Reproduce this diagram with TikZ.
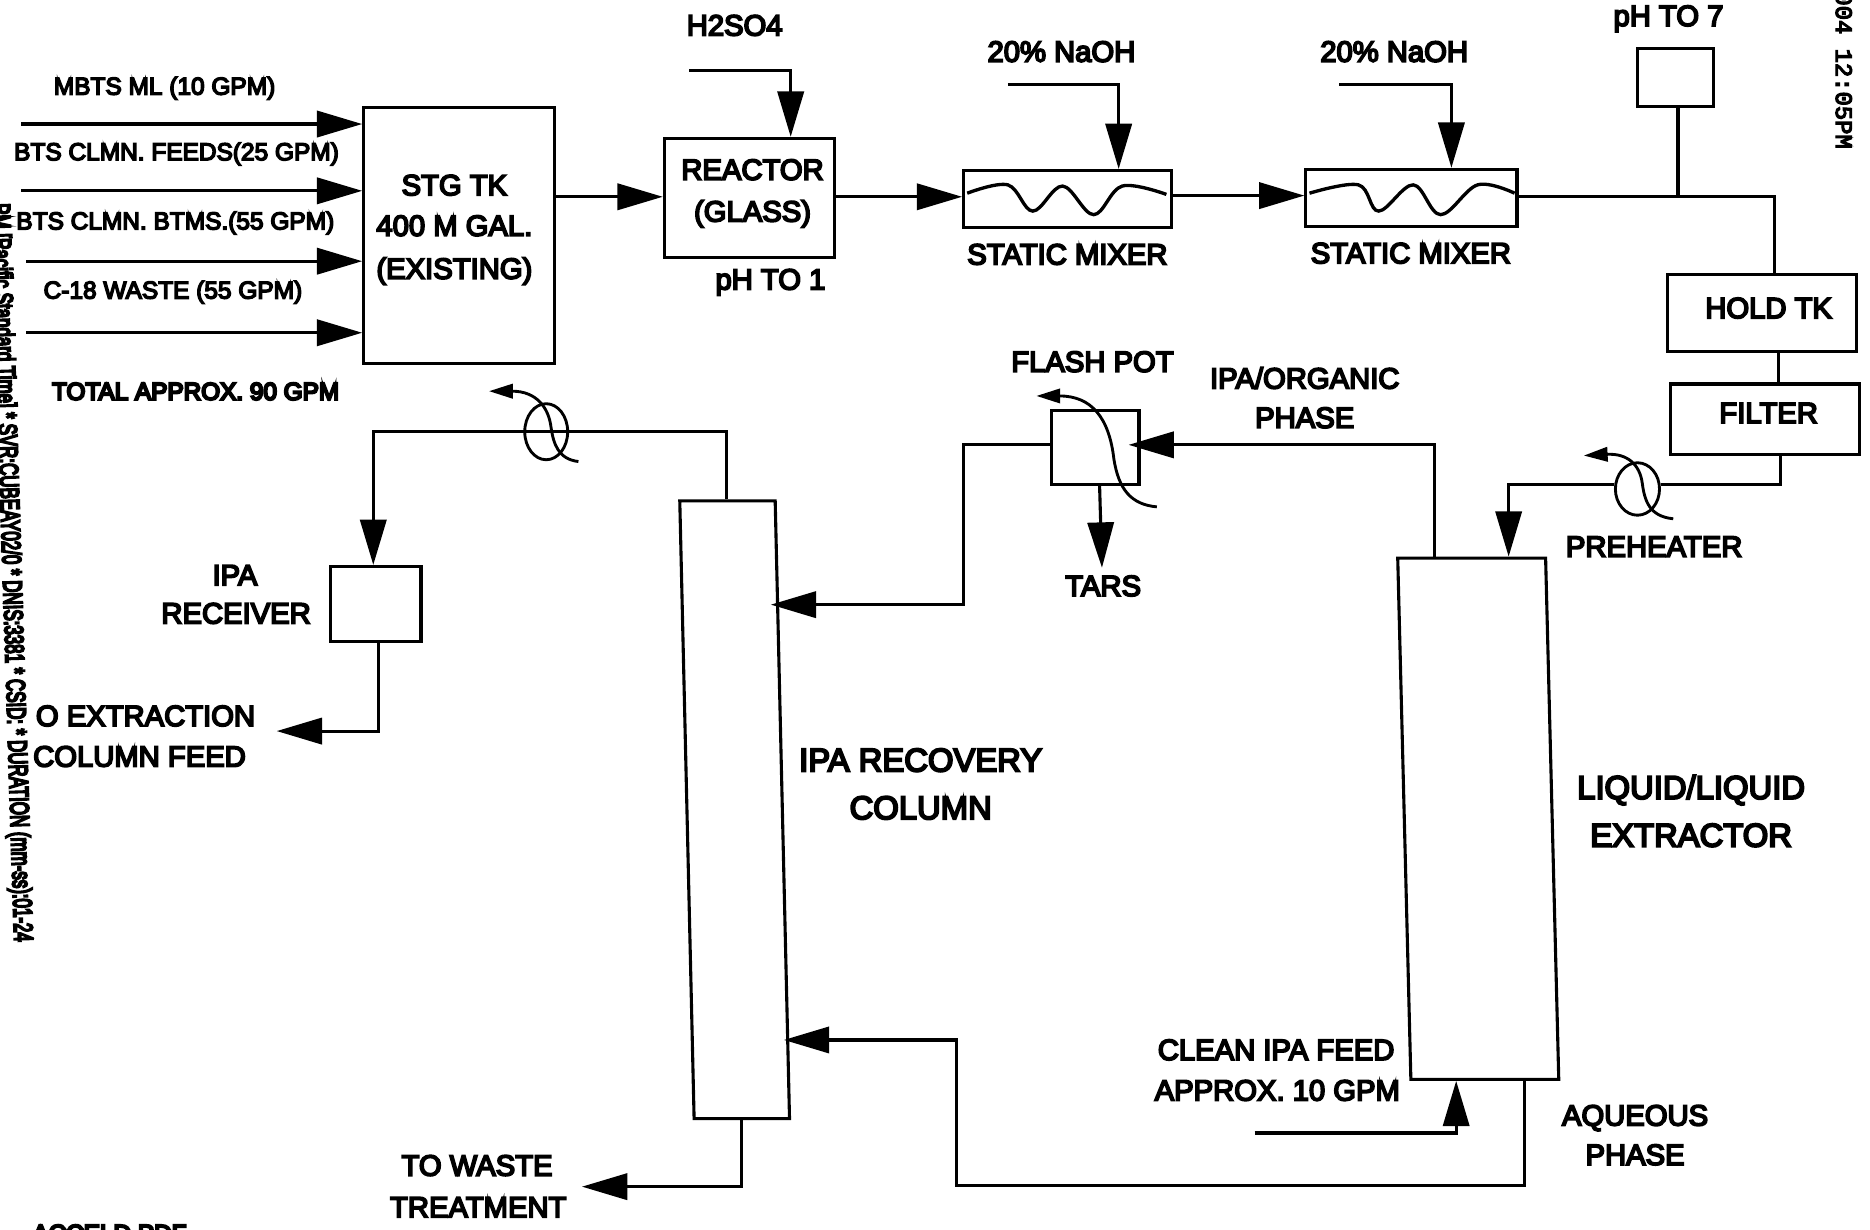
\documentclass[tikz,border=0pt]{standalone}
\usepackage{fontspec}
\setmainfont{Liberation Sans}
\newfontfamily\scanfont{Liberation Sans}[FakeBold=6]
\newfontfamily\heavyfont{Liberation Sans}[FakeBold=9]
\newfontfamily\stampfont{Liberation Mono}[FakeBold=5]
\usetikzlibrary{arrows.meta,shapes.geometric}
\tikzset{
  pipe/.style={line width=2.6pt},
  flow/.style={pipe,-{Triangle[length=38pt,width=22pt]}},
  coil/.style={line width=2.4pt,-{Triangle[length=20pt,width=12pt]}},
  unit/.style={draw,line width=2.6pt,inner sep=0pt,rectangle},
  slanted/.style={unit,transform shape},
  lbl/.style={inner sep=0pt,text depth=0pt},
  big/.style={lbl,text height=17.5pt,font=\scanfont\fontsize{24.5}{29}\selectfont},
  huge/.style={lbl,text height=19.7pt,font=\scanfont\fontsize{27.5}{33}\selectfont},
  small/.style={lbl,text height=14.7pt,font=\scanfont\fontsize{20.5}{25}\selectfont},
  smallbold/.style={lbl,text height=14.5pt,font=\heavyfont\fontsize{20.4}{25}\selectfont},
}
\begin{document}
\begin{tikzpicture}[x=1pt,y=-1pt]
\useasboundingbox (0,0) rectangle (1568,1031);
\clip (0,0) rectangle (1568,1031);
% units
\node[unit,minimum width=160pt,minimum height=215pt] (stg) at (385,197.5) {};
\node[unit,minimum width=143pt,minimum height=100pt] (reactor) at (628.5,166) {};
\node[unit,minimum width=174pt,minimum height=48pt] (mixa) at (895,167) {};
\node[unit,minimum width=177pt,minimum height=48pt] (mixb) at (1183.5,166) {};
\node[unit,minimum width=64pt,minimum height=48pt] (phbox) at (1405,65) {};
\node[unit,minimum width=159pt,minimum height=65pt] (hold) at (1477.5,262.5) {};
\node[unit,minimum width=158pt,minimum height=59pt] (filter) at (1480,351.5) {};
\node[unit,minimum width=73pt,minimum height=62pt] (flash) at (918.5,375) {};
\node[unit,minimum width=76pt,minimum height=63pt] (receiver) at (315,506.5) {};
\node[slanted,xslant=-0.0232,minimum width=80pt,minimum height=518pt] (recovery) at (616,679) {};
\node[slanted,xslant=-0.0252,minimum width=124pt,minimum height=437pt] (extractor) at (1239.5,686.5) {};
% heat exchangers
\node[draw,line width=2.4pt,ellipse,minimum width=36pt,minimum height=47pt,inner sep=0pt] (hxtop) at (458,362) {};
\node[draw,line width=2.4pt,ellipse,minimum width=37pt,minimum height=44pt,inner sep=0pt] (hxpre) at (1373,410) {};
% free ends
\coordinate (f1) at (18,104);
\coordinate (f2) at (18,160);
\coordinate (f3) at (22,219);
\coordinate (f4) at (22,279);
\coordinate (acid) at (578,59);
\coordinate (basea) at (845,71);
\coordinate (baseb) at (1123,71);
\coordinate (tars) at (924,476);
\coordinate (toext) at (232,613);
\coordinate (towaste) at (488,995);
\coordinate (clean) at (1052,950);
% feeds
\draw[flow] (f1) -- (stg.west |- f1);
\draw[flow] (f2) -- (stg.west |- f2);
\draw[flow] (f3) -- (stg.west |- f3);
\draw[flow] (f4) -- (stg.west |- f4);
% top train
\draw[flow] (stg.east |- 0,165) -- (reactor.west |- 0,165);
\draw[flow] (acid) -| (reactor.north -| 663,0);
\draw[flow] (reactor.east |- 0,165) -- (mixa.west |- 0,165);
\draw[flow] (basea) -| (mixa.north -| 938,0);
\draw[flow] (mixa.east |- 0,164) -- (mixb.west |- 0,164);
\draw[flow] (baseb) -| (mixb.north -| 1217,0);
\draw[pipe] (mixb.east |- 0,165) -| (hold.north -| 1488,0);
\draw[pipe] (phbox.south -| 1407,0) -- (1407,165);
\draw[pipe] (hold.south -| 1491,0) -- (filter.north -| 1491,0);
% mixer internals
\draw[line width=2.8pt] plot[smooth,tension=0.6] coordinates {(811,162) (845,155) (866,177) (891,156) (917,180) (941,156) (978,163)};
\draw[line width=2.8pt] plot[smooth,tension=0.6] coordinates {(1098,162) (1139,155) (1156,177) (1185,155) (1208,180) (1239,155) (1270,162)};
% preheater loop
\draw[pipe] (filter.south -| 1493,0) |- (hxpre.east |- 0,406);
\draw[flow] (hxpre.west |- 0,406) -| (extractor.north -| 1265,0);
\draw[coil] (1403,435) .. controls (1383,433) and (1379,420) .. (1377,405) .. controls (1375,390) and (1365,380) .. (1328,382);
% extractor overhead to flash pot
\draw[flow,shorten >=-10pt] (extractor.north -| 1203,0) |- (flash.east |- 0,373);
\draw[flow,shorten >=-11pt] (flash.west |- 0,373) -| (808,507) -- (recovery.east |- 0,507);
\draw[coil] (970,425) .. controls (948,423) and (938,410) .. (934,385) .. controls (930,350) and (915,332) .. (869,332);
\draw[flow] (flash.south -| 922,0) -- (tars);
% recovery overhead
\draw[pipe] (recovery.north -| 609,0) |- (hxtop.east |- 0,362);
\draw[pipe] (hxtop.east |- 0,362) -- (hxtop.west |- 0,362);
\draw[flow] (hxtop.west |- 0,362) -| (receiver.north -| 313,0);
\draw[coil] (485,387) .. controls (468,385) and (464,372) .. (462,358) .. controls (460,342) and (450,328) .. (410,328);
\draw[flow] (receiver.south -| 317,0) |- (toext);
\draw[flow] (recovery.south -| 622,0) |- (towaste);
% extractor bottoms
\draw[flow] (extractor.south -| 1278,0) |- (802,994) |- (recovery.east |- 0,872);
\draw[flow] (clean) -| (extractor.south -| 1221,0);
% labels
\node[small] (t1) at (138,72) {MBTS ML (10 GPM)};
\node[small] (t2) at (148,127) {BTS CLMN. FEEDS(25 GPM)};
\node[small] (t3) at (147,185) {BTS CLMN. BTMS.(55 GPM)};
\node[small] (t4) at (145,243) {C-18 WASTE (55 GPM)};
\node[smallbold] (t5) at (164,328) {TOTAL APPROX. 90 GPM};
\node[big] (s1) at (381,155) {STG TK};
\node[big] (s2) at (381,189) {400 M GAL.};
\node[big] (s3) at (381,225) {(EXISTING)};
\node[big] (r1) at (631,142) {REACTOR};
\node[big] (r2) at (631,177) {(GLASS)};
\node[big] (ph1) at (646,234) {pH TO 1};
\node[big] (h2) at (616,21) {H2SO4};
\node[big] (na1) at (890,43) {20\% NaOH};
\node[big] (na2) at (1169,43) {20\% NaOH};
\node[big] (m1) at (895,213) {STATIC MIXER};
\node[big] (m2) at (1183,212) {STATIC MIXER};
\node[big] (ph7) at (1399,13) {pH TO 7};
\node[big] (ht) at (1483,258) {HOLD TK};
\node[big] (fl) at (1483,346) {FILTER};
\node[big] (pre) at (1387,458) {PREHEATER};
\node[big] (fp) at (916,303) {FLASH POT};
\node[big] (io) at (1094,317) {IPA/ORGANIC};
\node[big] (ip) at (1094,350) {PHASE};
\node[big] (ta) at (925,491) {TARS};
\node[big] (ri) at (197,482) {IPA};
\node[big] (rr) at (198,514) {RECEIVER};
\node[big] (e1) at (122,600) {O EXTRACTION};
\node[big] (e2) at (117,634) {COLUMN FEED};
\node[huge] (c1) at (772,637) {IPA RECOVERY};
\node[huge] (c2) at (772,677) {COLUMN};
\node[huge] (l1) at (1418,660) {LIQUID/LIQUID};
\node[huge] (l2) at (1418,700) {EXTRACTOR};
\node[big] (w1) at (400,977) {TO WASTE};
\node[big] (w2) at (401,1012) {TREATMENT};
\node[big] (cl1) at (1070,880) {CLEAN IPA FEED};
\node[big] (cl2) at (1071,914) {APPROX. 10 GPM};
\node[big] (a1) at (1371,935) {AQUEOUS};
\node[big] (a2) at (1371,968) {PHASE};
% scan margins
\node[inner sep=0pt,anchor=east,rotate=-88.2,font=\heavyfont\fontsize{22}{26}\selectfont] (margin) at (18,790)
  {\scalebox{0.645}[1]{PM [Pacific Standard Time] * SVR:CUBEAY02/0 * DNIS:3381 * CSID: * DURATION (mm-ss):01-24}};
\node[inner sep=0pt,anchor=east,rotate=-90,font=\stampfont\fontsize{20}{24}\selectfont] (stamp) at (1546,125) {004 12:05PM};
\node[smallbold,anchor=west] (fname) at (27,1034) {ACCELD.PDF};
\end{tikzpicture}
\end{document}
